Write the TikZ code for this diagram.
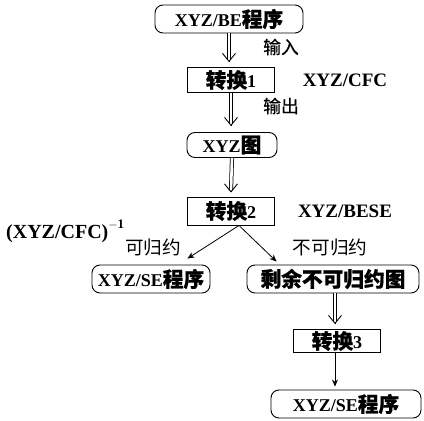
\documentclass[tikz,border=0pt]{standalone}
\usepackage{fontspec}
\setmainfont{Liberation Serif}
\newfontfamily\cjk{Noto Sans CJK SC}[Scale=1.2]
\newfontfamily\cjkb{Noto Sans CJK SC}[Scale=1.15, FakeBold=0.7]
\usetikzlibrary{arrows.meta,calc}
\tikzset{
  rbox/.style={draw, line width=0.9pt, rounded corners=8pt, inner sep=0pt, font=\fontsize{18}{20}\selectfont\bfseries},
  sbox/.style={draw, line width=0.9pt, inner sep=0pt, font=\fontsize{18}{20}\selectfont\bfseries},
  lab/.style={inner sep=0pt, font=\fontsize{19}{21}\selectfont\bfseries},
  clab/.style={inner sep=0pt, font=\fontsize{15.5}{17}\selectfont},
  dline/.style={double, double distance=2.6pt, line width=0.75pt},
  dhead/.style={line width=0.9pt, -{Straight Barb[length=8pt,width=13pt]}},
  sgl/.style={line width=0.8pt, -{Stealth[length=7pt,width=6pt]}},
}
\newcommand\dblarrow[2]{%
  \draw[dline] #1 -- ($#2+(0,-2)$);
  \draw[dhead] ($#2+(0,-1)$) -- #2;}
\begin{document}
\begin{tikzpicture}[x=1pt,y=-1pt]
\useasboundingbox (0,0) rectangle (424,421);
\node[rbox, minimum width=148pt, minimum height=28pt] (n1) at (229,19) {XYZ/BE{\cjkb 程序}};
\node[sbox, minimum width=87pt, minimum height=25pt] (t1) at (231,80) {{\cjkb 转换}1};
\node[clab] (in) at (281,47) {\cjkb 输入};
\node[clab] (out) at (281,106) {\cjkb 输出};
\node[lab] (c1) at (345,80) {XYZ/CFC};
\node[rbox, minimum width=90pt, minimum height=25pt] (n2) at (232,145) {XYZ{\cjkb 图}};
\node[sbox, minimum width=87pt, minimum height=28pt] (t2) at (231,211) {{\cjkb 转换}2};
\node[lab] (c2) at (345,211) {XYZ/BESE};
\node[lab, anchor=west, font=\fontsize{20}{22}\selectfont\bfseries] (inv) at (6,231) {(XYZ/CFC)\raisebox{10pt}{\fontsize{13}{13}\selectfont$-$1}};
\node[clab] (kg) at (153,247) {\cjk 可归约};
\node[clab] (bkg) at (330,247) {\cjk 不可归约};
\node[rbox, minimum width=118pt, minimum height=28pt] (n3) at (151,279) {XYZ/SE{\cjkb 程序}};
\node[rbox, minimum width=172pt, minimum height=28pt] (n4) at (333,279) {\cjkb 剩余不可归约图};
\node[sbox, minimum width=87pt, minimum height=23pt] (t3) at (337,341) {{\cjkb 转换}3};
\node[rbox, minimum width=150pt, minimum height=28pt] (n5) at (346,404) {XYZ/SE{\cjkb 程序}};
\coordinate (s2) at ($(t2.south)+(8,0)$);
\coordinate (e3) at ($(n3.north east)+(-23,-6)$);
\coordinate (e4) at ($(n4.north west)+(30,-3)$);
\dblarrow{($(n1.south)+(0,0)$)}{($(t1.north)+(-2,-5)$)}
\dblarrow{(t1.south)}{($(n2.north)+(-1,-6)$)}
\dblarrow{(n2.south)}{($(t2.north)+(0,-4)$)}
\draw[sgl] (s2) -- (e3);
\draw[sgl] (s2) -- (e4);
\dblarrow{($(n4.south -| t3.north)+(-2,0)$)}{($(t3.north)+(-2,-5)$)}
\draw[sgl] ($(t3.south)+(-2,0)$) -- ($(n5.north -| t3.south)+(-2,-3)$);
\end{tikzpicture}
\end{document}
